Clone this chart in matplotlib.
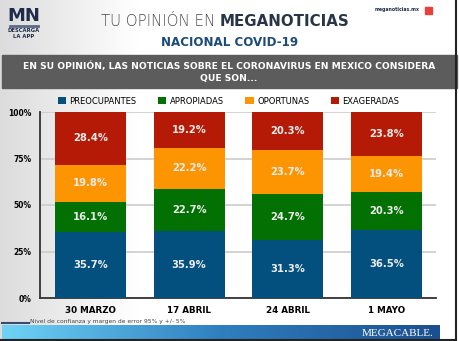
import matplotlib.pyplot as plt
import numpy as np
from matplotlib.patches import Rectangle
from matplotlib.colors import LinearSegmentedColormap

fechas = ["30 MARZO", "17 ABRIL", "24 ABRIL", "1 MAYO"]
series = ["PREOCUPANTES", "APROPIADAS", "OPORTUNAS", "EXAGERADAS"]
preocupantes = [35.7, 35.9, 31.3, 36.5]
apropiadas = [16.1, 22.7, 24.7, 20.3]
oportunas = [19.8, 22.2, 23.7, 19.4]
exageradas = [28.4, 19.2, 20.3, 23.8]
colores = ["#03507f", "#037003", "#fd9502", "#b41a05"]
yticks = [0, 25, 50, 75, 100]

W, H = 459, 341
fig = plt.figure(figsize=(W / 100, H / 100), dpi=100)

# background gradient (gray at left -> white)
bg = fig.add_axes([0, 0, 1, 1], zorder=-10)
grad = np.linspace(0, 1, 256)
grad = np.clip(grad / 0.3, 0, 1)
bg.imshow(grad[np.newaxis, :], aspect="auto", extent=[0, W, 0, H],
          cmap=LinearSegmentedColormap.from_list("g", ["#dcdcdc", "#ffffff"]))
bg.set_xlim(0, W)
bg.set_ylim(H, 0)
bg.axis("off")

# gray banner
bg.add_patch(Rectangle((2, 55), W - 4, 33, color="#5c5c5c", zorder=2))
bg.text(229, 66, "EN SU OPINIÓN, LAS NOTICIAS SOBRE EL CORONAVIRUS EN MEXICO CONSIDERA",
        color="white", fontsize=6.6, fontweight="bold", ha="center", va="center", zorder=3)
bg.text(229, 79, "QUE SON...", color="white", fontsize=6.6, fontweight="bold",
        ha="center", va="center", zorder=3)

# bottom blue bar
blue = np.linspace(0, 1, 256)[np.newaxis, :]
bg.imshow(blue, aspect="auto", extent=[2, 440, 341, 325], zorder=2,
          cmap=LinearSegmentedColormap.from_list("b", ["#6fd3f7", "#2f7fbf", "#1b4f8f"]))
bg.text(398, 333, "MEGACABLE.", color="white", fontsize=8, family="Liberation Serif",
        ha="center", va="center", zorder=3)
bg.plot([2, 29], [323, 323], color="#3a4a6a", lw=1.5, zorder=3)
bg.text(30, 322, "Nivel de confianza y margen de error 95% y +/- 5%", color="#444444",
        fontsize=4.3, ha="left", va="center", zorder=3)

# titles
bg.text(220, 22, "TU OPINIÓN EN ", color="#4a4a4a", fontsize=10.8, ha="right", va="center",
        zorder=3, fontweight="light")
bg.text(220, 22, "MEGANOTICIAS", color="#283548", fontsize=10.8, fontweight="bold",
        ha="left", va="center", zorder=3)
bg.text(230, 43, "NACIONAL COVID-19", color="#1c4b78", fontsize=8.6, fontweight="bold",
        ha="center", va="center", zorder=3)

# logo
bg.text(24, 16, "MN", color="#1f2b4a", fontsize=13, fontweight="bold", ha="center",
        va="center", zorder=3)
bg.plot([10, 38], [26, 26], color="#5b6a85", lw=2, zorder=3)
bg.text(24, 31, "DESCARGA", color="#1f2b4a", fontsize=3.8, fontweight="bold", ha="center",
        va="center", zorder=3)
bg.text(24, 37, "LA APP", color="#1f2b4a", fontsize=3.8, fontweight="bold", ha="center",
        va="center", zorder=3)
bg.text(420, 10, "meganoticias.mx", color="#1f2b4a", fontsize=3.3, fontweight="bold",
        ha="right", va="center", zorder=3)
bg.add_patch(Rectangle((425, 7), 7, 7, color="#e8413c", zorder=3))

# frame
bg.plot([456, 456], [0, 341], color="#222222", lw=1.5, zorder=4)
bg.plot([0, 456], [340, 340], color="#222222", lw=1.5, zorder=4)

# chart
ax = fig.add_axes([40 / W, 1 - 298 / H, 396 / W, 186 / H])
ax.patch.set_alpha(0)
x = np.arange(len(fechas))
bottom = np.zeros(len(fechas))
handles = []
for name, vals, c in zip(series, [preocupantes, apropiadas, oportunas, exageradas], colores):
    b = ax.bar(x, vals, 0.72, bottom=bottom, color=c, label=name, zorder=3)
    handles.append(b)
    for xi, v, bo in zip(x, vals, bottom):
        ax.text(xi, bo + v / 2, f"{v:.1f}%", color="#ececec", fontsize=7.2, fontweight="bold",
                ha="center", va="center", zorder=4)
    bottom += np.array(vals)

ax.set_xlim(-0.51, 3.5)
ax.set_ylim(0, 100)
ax.set_yticks(yticks)
ax.set_yticklabels([f"{t}%" for t in yticks], fontsize=5.5, fontweight="bold")
ax.set_xticks(x)
ax.set_xticklabels(fechas, fontsize=6.3, fontweight="bold")
ax.tick_params(length=0, pad=6)
ax.tick_params(axis="y", pad=6)
ax.grid(axis="y", color="#cccccc", lw=1.2, zorder=0)
for s in ["top", "right"]:
    ax.spines[s].set_visible(False)
ax.spines["left"].set_color("#333333")
ax.spines["bottom"].set_color("#333333")
ax.spines["left"].set_linewidth(1.3)
ax.spines["bottom"].set_linewidth(1.3)

fig.legend(handles=handles, loc="center", bbox_to_anchor=(0.498, 1 - 101 / H), ncol=4,
           frameon=False, fontsize=6.0, handlelength=1.0, handleheight=1.0,
           columnspacing=2.6, handletextpad=0.4)

fig.savefig("out.png", dpi=100)
